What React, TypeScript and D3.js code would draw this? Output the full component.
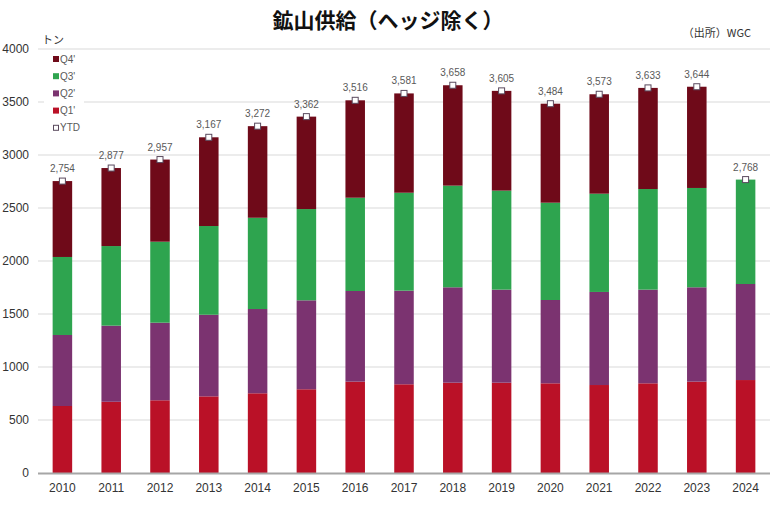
import { useEffect, useRef } from 'react';
import * as d3 from 'd3';

const years = ['2010', '2011', '2012', '2013', '2014', '2015', '2016', '2017', '2018', '2019', '2020', '2021', '2022', '2023', '2024'];
const q1 = [632, 672, 686, 723, 752, 790, 862, 837, 852, 852, 846, 830, 846, 862, 877];
const q2 = [670, 718, 732, 770, 795, 839, 855, 883, 900, 878, 786, 878, 884, 890, 906];
const q3 = [736, 751, 764, 837, 861, 861, 880, 924, 959, 934, 918, 927, 949, 937, 985];
const q4 = [716, 736, 775, 837, 864, 872, 919, 937, 947, 941, 934, 938, 954, 955, 0];
const ytd = [2754, 2877, 2957, 3167, 3272, 3362, 3516, 3581, 3658, 3605, 3484, 3573, 3633, 3644, 2768];
const yTicks = [0, 500, 1000, 1500, 2000, 2500, 3000, 3500, 4000];

const seriesKeys = ['Q1', 'Q2', 'Q3', 'Q4'];
const colours: Record<string, string> = {
  Q1: '#BA1127',
  Q2: '#7B3370',
  Q3: '#2EA44F',
  Q4: '#6F0A19',
};

const W = 780;
const H = 511;
const MARGIN = { top: 49, right: 10, bottom: 38, left: 38 };
const FONT = '"Liberation Sans", Arial, sans-serif';
const JP_FONT = '"Noto Sans CJK JP", "Noto Sans", sans-serif';

export default function App() {
  const svgRef = useRef<SVGSVGElement>(null);

  useEffect(() => {
    if (!svgRef.current) return;
    const svg = d3.select(svgRef.current);
    svg.selectAll('*').remove();

    const x = d3.scaleBand()
      .domain(years)
      .range([MARGIN.left, W - MARGIN.right])
      .paddingInner(0.6)
      .paddingOuter(0.3);

    const y = d3.scaleLinear()
      .domain([0, 4000])
      .range([H - MARGIN.bottom, MARGIN.top]);

    // gridlines
    svg.append('g')
      .selectAll('line')
      .data(yTicks.filter((t) => t > 0))
      .join('line')
      .attr('x1', MARGIN.left)
      .attr('x2', W - MARGIN.right)
      .attr('y1', (d) => y(d))
      .attr('y2', (d) => y(d))
      .attr('stroke', '#D9D9D9')
      .attr('stroke-width', 1);

    // y tick labels
    svg.append('g')
      .selectAll('text')
      .data(yTicks)
      .join('text')
      .attr('x', 29)
      .attr('y', (d) => y(d) + 4)
      .attr('text-anchor', 'end')
      .attr('font-family', FONT)
      .attr('font-size', '12px')
      .attr('fill', '#333')
      .text((d) => d);

    // stacked bars
    const rows = years.map((yr, i) => ({ year: yr, Q1: q1[i], Q2: q2[i], Q3: q3[i], Q4: q4[i] }));
    const stack = d3.stack<any>().keys(seriesKeys);
    const layers = stack(rows);

    svg.append('g')
      .selectAll('g')
      .data(layers)
      .join('g')
      .attr('fill', (d) => colours[d.key])
      .selectAll('rect')
      .data((d) => d)
      .join('rect')
      .attr('x', (d) => x(d.data.year)!)
      .attr('width', x.bandwidth())
      .attr('y', (d) => y(d[1]))
      .attr('height', (d) => y(d[0]) - y(d[1]));

    // x axis line
    svg.append('line')
      .attr('x1', MARGIN.left)
      .attr('x2', W - MARGIN.right)
      .attr('y1', y(0) + 0.5)
      .attr('y2', y(0) + 0.5)
      .attr('stroke', '#A6A6A6')
      .attr('stroke-width', 2);

    // x labels
    svg.append('g')
      .selectAll('text')
      .data(years)
      .join('text')
      .attr('x', (d) => x(d)! + x.bandwidth() / 2)
      .attr('y', y(0) + 19)
      .attr('text-anchor', 'middle')
      .attr('font-family', FONT)
      .attr('font-size', '12px')
      .attr('fill', '#333')
      .text((d) => d);

    // YTD markers + labels
    const ytdG = svg.append('g');
    ytd.forEach((v, i) => {
      const cx = x(years[i])! + x.bandwidth() / 2;
      const cy = y(v);
      ytdG.append('rect')
        .attr('x', cx - 3)
        .attr('y', cy - 3)
        .attr('width', 6)
        .attr('height', 6)
        .attr('fill', '#fff')
        .attr('stroke', '#5A4A5E')
        .attr('stroke-width', 1);
      ytdG.append('text')
        .attr('x', cx)
        .attr('y', cy - 9)
        .attr('text-anchor', 'middle')
        .attr('font-family', FONT)
        .attr('font-size', '10px')
        .attr('fill', '#595959')
        .text(d3.format(',')(v));
    });

    // legend
    const legendItems = [
      { label: "Q4'", key: 'Q4' },
      { label: "Q3'", key: 'Q3' },
      { label: "Q2'", key: 'Q2' },
      { label: "Q1'", key: 'Q1' },
      { label: 'YTD', key: 'YTD' },
    ];
    svg.append('rect')
      .attr('x', 44)
      .attr('y', 52)
      .attr('width', 40)
      .attr('height', 84)
      .attr('fill', '#fff');
    const lg = svg.append('g');
    legendItems.forEach((item, i) => {
      const ly = 59 + i * 17.2;
      if (item.key === 'YTD') {
        lg.append('rect')
          .attr('x', 53.5)
          .attr('y', ly - 2.5)
          .attr('width', 5)
          .attr('height', 5)
          .attr('fill', '#fff')
          .attr('stroke', '#5A4A5E');
      } else {
        lg.append('rect')
          .attr('x', 53)
          .attr('y', ly - 3)
          .attr('width', 6)
          .attr('height', 6)
          .attr('fill', colours[item.key]);
      }
      lg.append('text')
        .attr('x', 60)
        .attr('y', ly + 3.5)
        .attr('font-family', FONT)
        .attr('font-size', '10px')
        .attr('fill', '#595959')
        .text(item.label);
    });

    // unit
    svg.append('text')
      .attr('x', 42)
      .attr('y', 44)
      .attr('font-family', JP_FONT)
      .attr('font-size', '11px')
      .attr('fill', '#333')
      .text('トン');

    // title
    svg.append('text')
      .attr('x', 388)
      .attr('y', 28)
      .attr('text-anchor', 'middle')
      .attr('font-family', JP_FONT)
      .attr('font-size', '21px')
      .attr('font-weight', '700')
      .attr('fill', '#111')
      .text('鉱山供給（ヘッジ除く）');

    // source
    svg.append('text')
      .attr('x', 751)
      .attr('y', 37)
      .attr('text-anchor', 'end')
      .attr('font-family', JP_FONT)
      .attr('font-size', '11px')
      .attr('fill', '#333')
      .text('（出所）WGC');
  }, []);

  return (
    <div style={{ position: 'absolute', left: 0, top: 0, width: W, height: H, background: '#fff' }}>
      <svg ref={svgRef} width={W} height={H} />
    </div>
  );
}
